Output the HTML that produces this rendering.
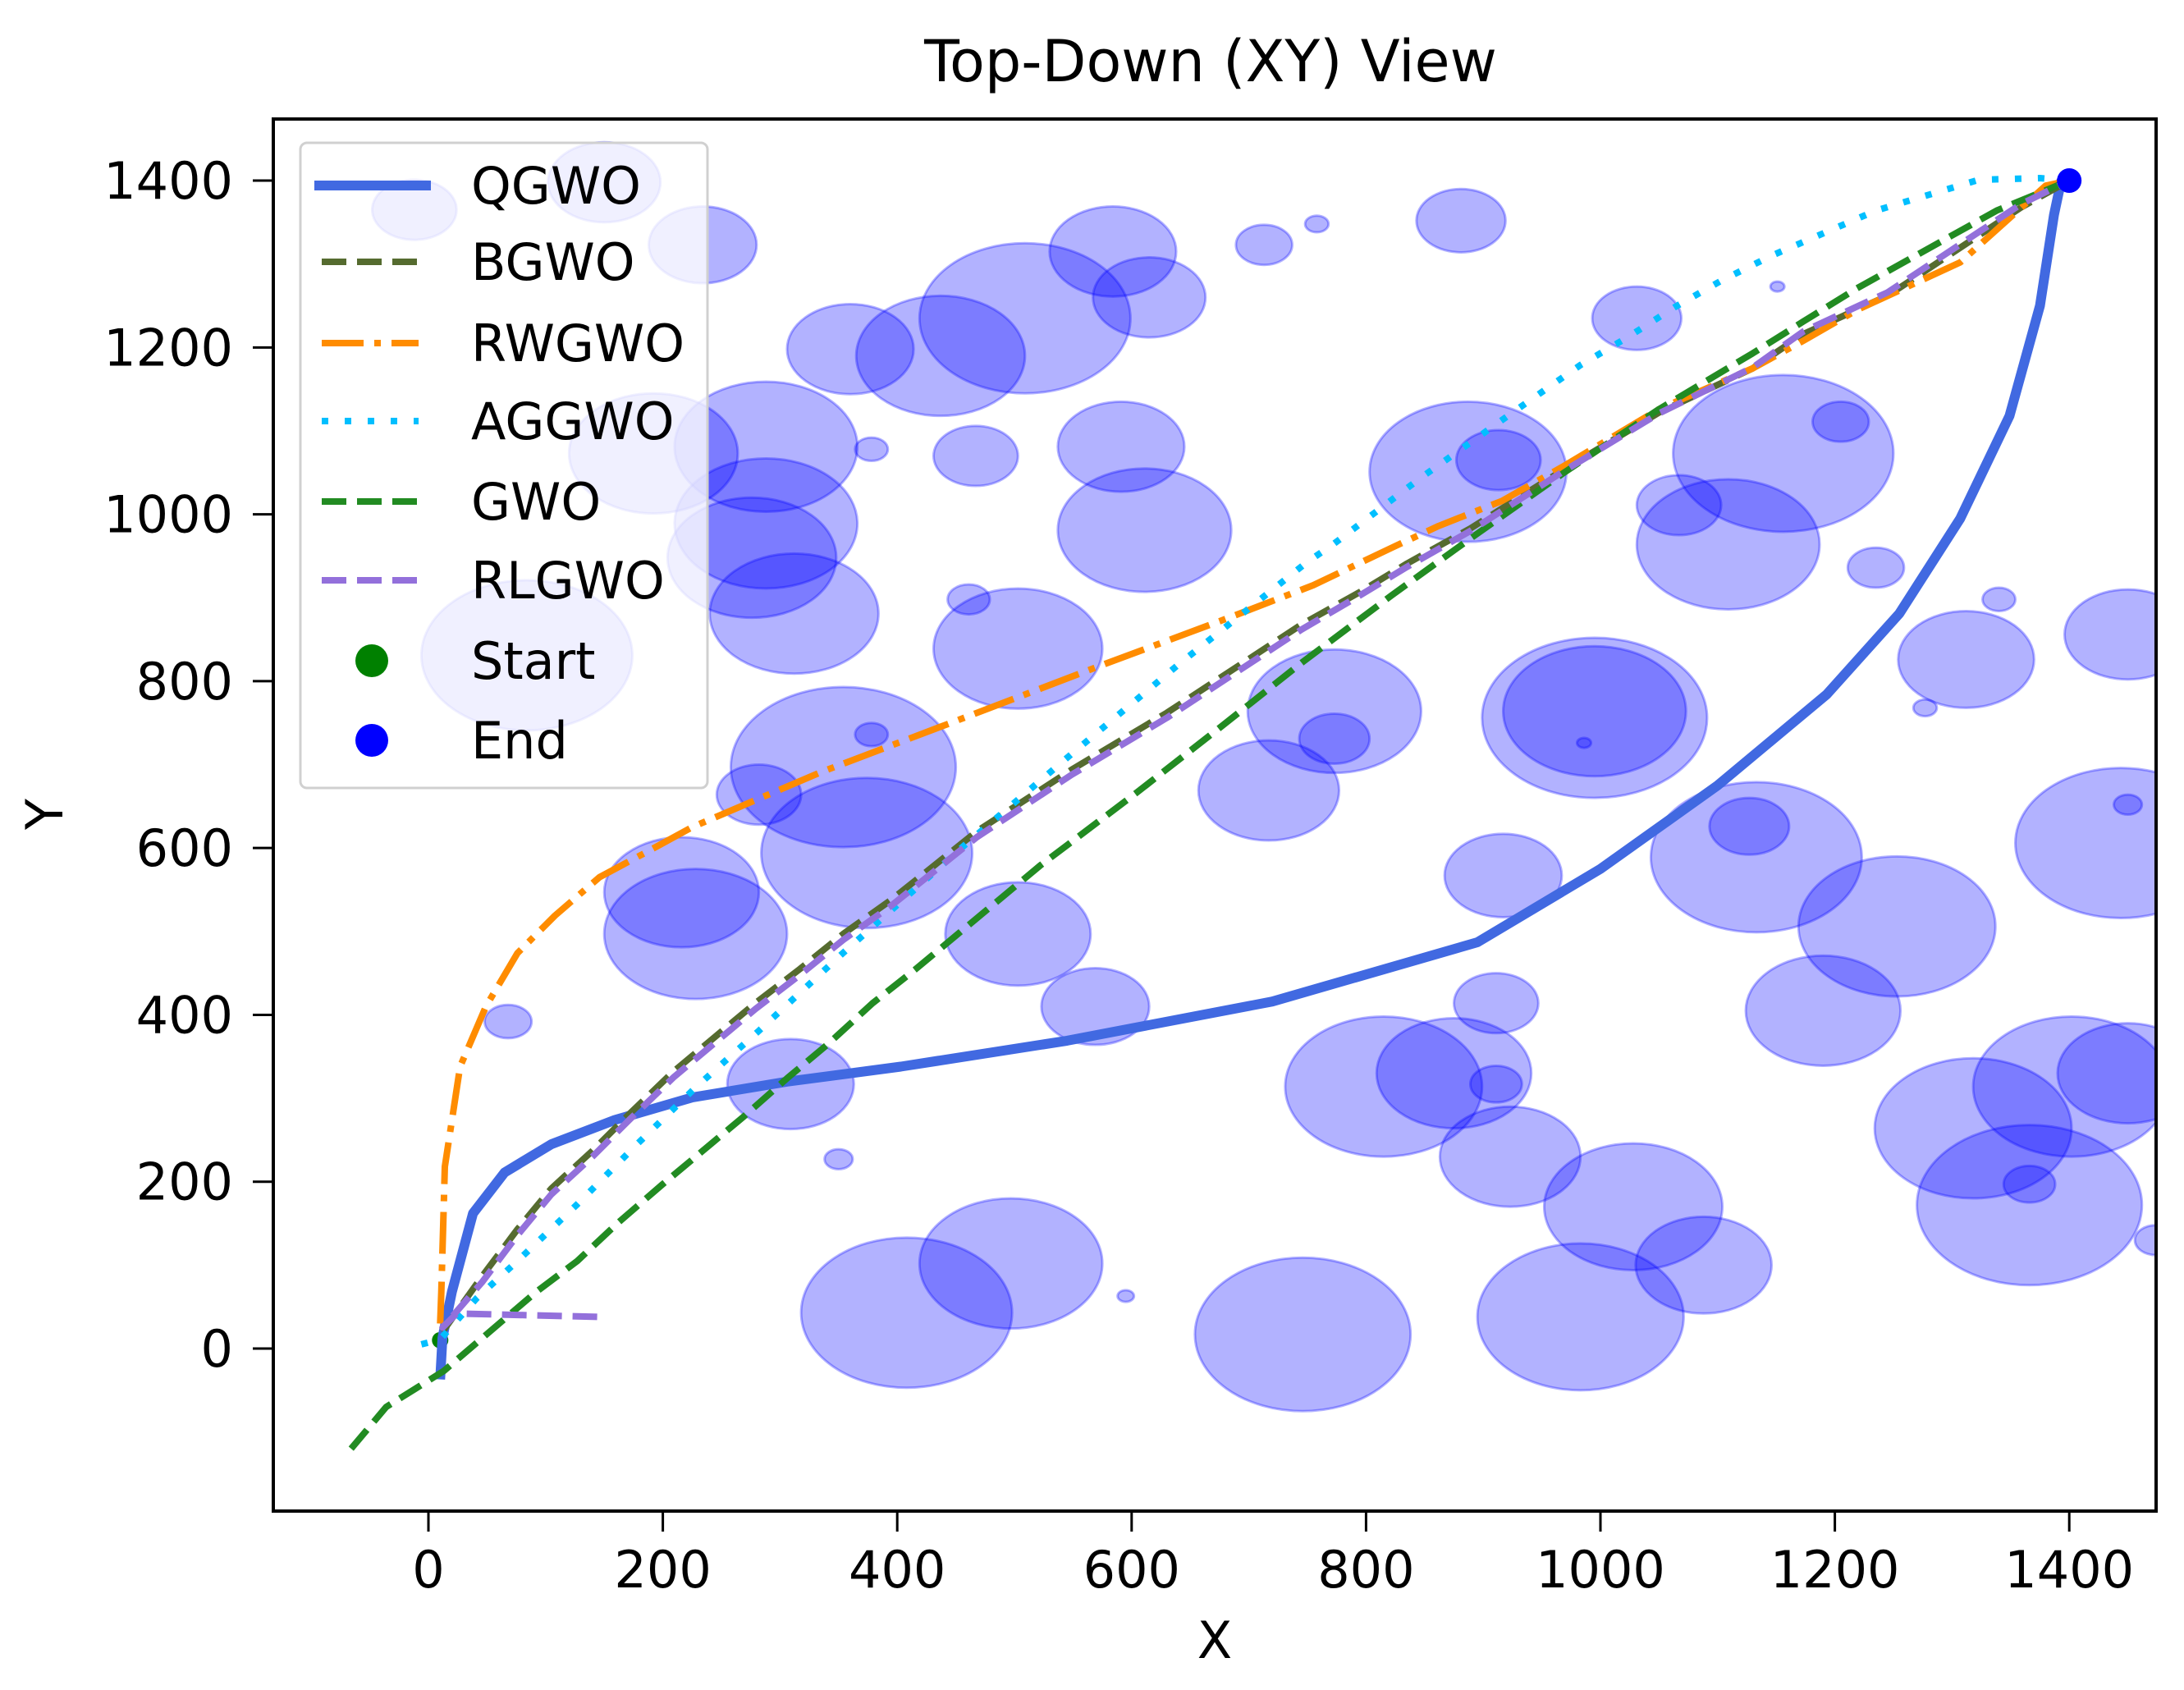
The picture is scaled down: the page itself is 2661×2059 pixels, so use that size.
<!DOCTYPE html>
<html><head><meta charset="utf-8"><style>
html,body{margin:0;padding:0;background:#fff;}
svg{display:block;font-family:"DejaVu Sans","Liberation Sans",sans-serif;}
</style></head><body>
<svg id="chart" width="2661" height="2059" viewBox="0 0 2661 2059" xmlns="http://www.w3.org/2000/svg">
<defs><clipPath id="plotclip"><rect x="333" y="145" width="2294" height="1696"/></clipPath></defs>
<text x="1475" y="99" font-size="70" text-anchor="middle" fill="#000">Top-Down (XY) View</text>
<g id="obstacles" clip-path="url(#plotclip)"></g>
<g id="paths" clip-path="url(#plotclip)"></g>
<g id="axes"></g>
<g id="legend"></g>
</svg>
<script>
const NS='http://www.w3.org/2000/svg';
// data
const xTicks=[0,200,400,600,800,1000,1200,1400];
const yTicks=[0,200,400,600,800,1000,1200,1400];
const obsX=[408,497,746,983,1088,1028,923,815,875,911,911,1366,1318,1402,1450,1366,1253,1190,1133,1127,1444,1450,1450,1312,1340,1235,1277,1109,1156,1205,1067,887,913,1031,995,995,986,773,773,717,917,503,461,503,569,611,591,615,584,509,437,360,467,378,288,288,312,354,378,282,374,228,216,309,350,68,595,713,758,881,1151,-12,150,234,192,84,276,1474];
const obsY=[43,102,17,38,100,170,230,314,330,317,414,172,264,314,330,197,506,405,589,626,606,652,856,826,898,936,768,964,1073,1111,1011,1051,1065,1235,756,764,726,764,731,669,567,839,898,497,410,981,1081,1260,1315,1235,1190,1198,1070,1078,1081,989,881,697,736,664,594,497,547,317,227,392,63,1323,1348,1352,1273,1365,1398,1323,1073,831,948,130];
const obsR=[90,78,92,88,58,76,60,84,66,22,36,96,84,84,60,22,84,66,90,34,90,12,54,58,14,24,10,78,94,24,36,84,36,38,96,78,6,74,30,60,50,72,18,62,46,74,54,48,54,90,72,54,36,14,78,78,72,96,14,36,90,78,66,54,12,20,7,24,10,38,6,36,48,46,72,90,72,18];
const qgwoX=[10,12,20,38,65,105,159,225,306,403,545,720,895,1000,1100,1193,1255,1307,1349,1375,1387,1393,1400];
const qgwoY=[-37,13,68,162,211,245,274,301,320,338,369,416,487,575,675,784,881,995,1118,1250,1359,1399,1400];
const bgwoX=[12,46,76,105,140,172,209,244,279,317,354,395,468,549,630,745,795,835,889,969,1050,1130,1173,1245,1359,1400];
const bgwoY=[20,87,143,192,237,282,332,373,414,455,497,538,620,694,762,868,907,941,983,1054,1122,1175,1216,1262,1368,1400];
const rwgwoX=[10,11,14,27,49,76,108,146,186,225,335,442,576,683,755,822,862,916,969,1050,1130,1173,1219,1307,1380,1400];
const rwgwoY=[30,68,218,338,410,474,519,565,595,625,691,748,820,876,915,960,986,1016,1058,1126,1175,1208,1245,1302,1394,1400];
const aggwoX=[-6,10,41,76,127,178,228,282,352,458,549,640,750,771,846,924,983,1023,1063,1103,1146,1235,1323,1375,1400];
const aggwoY=[5,11,60,105,173,245,313,381,472,604,713,820,943,963,1043,1121,1179,1212,1248,1280,1310,1364,1401,1403,1400];
const gwoX=[-66,-36,13,92,127,162,199,234,269,306,341,379,415,522,603,675,745,822,889,969,1050,1130,1173,1219,1338,1400];
const gwoY=[-120,-70,-27,68,105,151,196,237,278,324,365,414,454,579,665,744,822,903,971,1050,1126,1193,1231,1271,1364,1400];
const rlgwoX=[144,24,12,46,76,105,140,172,209,244,279,317,354,395,468,549,630,745,795,835,889,969,1050,1130,1173,1245,1359,1400];
const rlgwoY=[38,42,25,80,136,185,230,275,325,366,407,448,490,531,613,688,756,862,903,937,980,1052,1121,1176,1219,1266,1372,1400];
const startPt=[10,10];
const endPt=[1400,1400];

const X0=522, XS=1.428, Y0=1643, YS=1.0164;
function sx(v){return X0+v*XS;}
function sy(v){return Y0-v*YS;}
function mk(tag,attrs,parent){const e=document.createElementNS(NS,tag);for(const k in attrs)e.setAttribute(k,attrs[k]);parent.appendChild(e);return e;}

const og=document.getElementById('obstacles');
for(let i=0;i<obsX.length;i++){
  const e=mk('ellipse',{cx:sx(obsX[i]),cy:sy(obsY[i]),rx:obsR[i]*XS,ry:obsR[i]*YS,fill:'rgba(0,0,255,0.3)',stroke:'rgba(0,0,255,0.3)','stroke-width':3},og);
  
  
}
const series=[
 {name:'QGWO',xs:qgwoX,ys:qgwoY,color:'#4169e1',w:12,dash:''},
 {name:'BGWO',xs:bgwoX,ys:bgwoY,color:'#556b2f',w:8,dash:'30,13'},
 {name:'RWGWO',xs:rwgwoX,ys:rwgwoY,color:'#ff8c00',w:8,dash:'51,13,8,13'},
 {name:'AGGWO',xs:aggwoX,ys:aggwoY,color:'#00bfff',w:8,dash:'8,20'},
 {name:'GWO',xs:gwoX,ys:gwoY,color:'#228b22',w:8,dash:'30,13'},
 {name:'RLGWO',xs:rlgwoX,ys:rlgwoY,color:'#9370db',w:8,dash:'30,13'}
];
const pg=document.getElementById('paths');
const st=mk('circle',{cx:sx(startPt[0]),cy:sy(startPt[1]),r:10,fill:'green'},pg);


series.forEach(s=>{
  const pts=s.xs.map((x,i)=>sx(x).toFixed(1)+','+sy(s.ys[i]).toFixed(1)).join(' ');
  const a={points:pts,fill:'none',stroke:s.color,'stroke-width':s.w,'stroke-linejoin':'round'};
  if(s.dash)a['stroke-dasharray']=s.dash;
  const e=mk('polyline',a,pg);
  
  
});
const en=mk('circle',{cx:sx(endPt[0]),cy:sy(endPt[1]),r:15,fill:'blue'},pg);



const ag=document.getElementById('axes');
const fr=mk('rect',{x:333,y:145,width:2294,height:1696,fill:'none',stroke:'#000','stroke-width':4},ag);


xTicks.forEach(t=>{
  const l=mk('line',{x1:sx(t),x2:sx(t),y1:1841,y2:1866,stroke:'#000','stroke-width':3},ag);
  
  
  const tx=mk('text',{x:sx(t),y:1934,'font-size':62,'text-anchor':'middle',fill:'#000'},ag);
  tx.textContent=t;
  
  
});
yTicks.forEach(t=>{
  const l=mk('line',{x1:308,x2:333,y1:sy(t),y2:sy(t),stroke:'#000','stroke-width':3},ag);
  
  
  const tx=mk('text',{x:284,y:sy(t)+22,'font-size':62,'text-anchor':'end',fill:'#000'},ag);
  tx.textContent=t;
  
  
});
const xl=mk('text',{x:1480,y:2020,'font-size':62,'text-anchor':'middle',fill:'#000'},ag);
xl.textContent='X';


const yl=mk('text',{x:0,y:0,'font-size':62,'text-anchor':'middle',fill:'#000',transform:'translate(76,992) rotate(-90)'},ag);
yl.textContent='Y';



const lg=document.getElementById('legend');
const lb=mk('rect',{x:366,y:174,width:496,height:786,rx:8,fill:'rgba(255,255,255,0.8)',stroke:'#d0d0d0','stroke-width':3},lg);


const rowY=[226,319,418,513,611,707,805,902];
series.forEach((s,i)=>{
  const a={x1:(i===0?383:392),x2:(i===0?525:510),y1:rowY[i],y2:rowY[i],stroke:s.color,'stroke-width':s.w};
  if(s.dash)a['stroke-dasharray']=s.dash;
  const l=mk('line',a,lg);
  
  
  const t=mk('text',{x:574,y:rowY[i]+22,'font-size':62,fill:'#000'},lg);
  t.textContent=s.name;
  
  
});
[['Start','green'],['End','blue']].forEach((m,j)=>{
  const y=rowY[6+j];
  const c=mk('circle',{cx:453,cy:y,r:20,fill:m[1]},lg);
  
  
  const t=mk('text',{x:574,y:y+22,'font-size':62,fill:'#000'},lg);
  t.textContent=m[0];
  
  
});
</script>
</body></html>
